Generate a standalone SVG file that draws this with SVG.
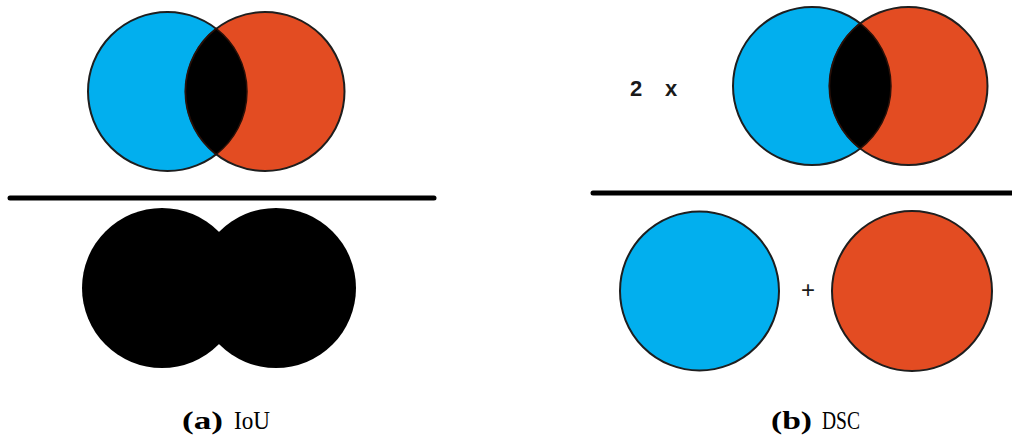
<svg xmlns="http://www.w3.org/2000/svg" width="1012" height="442" viewBox="0 0 1012 442">
  <style>
    .blue { fill: #02AFEE; stroke: #1e1e1e; stroke-width: 2; }
    .red { fill: #E34C22; stroke: #1e1e1e; stroke-width: 2; }
    .lens { fill: #000; stroke: #2a1008; stroke-width: 1.5; }
    .union { fill: #000; }
    .bar { stroke: #000; stroke-width: 5; stroke-linecap: round; }
    .op { font-family: "Liberation Sans", Arial, sans-serif; fill: #1a1a1a; }
    .cap { font-family: "Liberation Serif", "Times New Roman", serif; font-size: 25px; fill: #000; }
  </style>
  <rect width="1012" height="442" fill="#fff"/>

  <g id="iou-numerator">
    <circle class="blue" cx="167.5" cy="91.5" r="79.5"/>
    <circle class="red" cx="265" cy="91.5" r="79.5"/>
    <path class="lens" d="M216.25 28.7 A79.5 79.5 0 0 1 216.25 154.3 A79.5 79.5 0 0 1 216.25 28.7 Z"/>
  </g>
  <g id="iou-bar">
    <line class="bar" x1="10" y1="198" x2="434" y2="198"/>
  </g>
  <g id="iou-denominator">
    <circle class="union" cx="162" cy="288" r="80"/>
    <circle class="union" cx="276" cy="288" r="80"/>
  </g>
  <g id="caption-a">
    <text class="cap" x="182" y="429"><tspan font-weight="bold" textLength="41" lengthAdjust="spacingAndGlyphs">(a)</tspan><tspan x="234" textLength="36" lengthAdjust="spacingAndGlyphs">IoU</tspan></text>
  </g>

  <g id="dsc-factor">
    <text class="op" x="630" y="96" font-size="22" font-weight="bold">2</text>
    <text class="op" x="665" y="96" font-size="22" font-weight="bold">x</text>
  </g>
  <g id="dsc-numerator">
    <circle class="blue" cx="812" cy="86" r="79"/>
    <circle class="red" cx="908.5" cy="86" r="79"/>
    <path class="lens" d="M860.25 23.45 A79 79 0 0 1 860.25 148.55 A79 79 0 0 1 860.25 23.45 Z"/>
  </g>
  <g id="dsc-bar">
    <line class="bar" x1="593" y1="193" x2="1016" y2="193"/>
  </g>
  <g id="dsc-denominator">
    <circle class="blue" cx="699.5" cy="291" r="79.5"/>
    <text class="op" x="808" y="298" font-size="24" text-anchor="middle">+</text>
    <circle class="red" cx="912" cy="291" r="80"/>
  </g>
  <g id="caption-b">
    <text class="cap" x="771" y="429"><tspan font-weight="bold" textLength="41" lengthAdjust="spacingAndGlyphs">(b)</tspan><tspan x="822" textLength="38" lengthAdjust="spacingAndGlyphs">DSC</tspan></text>
  </g>
</svg>
